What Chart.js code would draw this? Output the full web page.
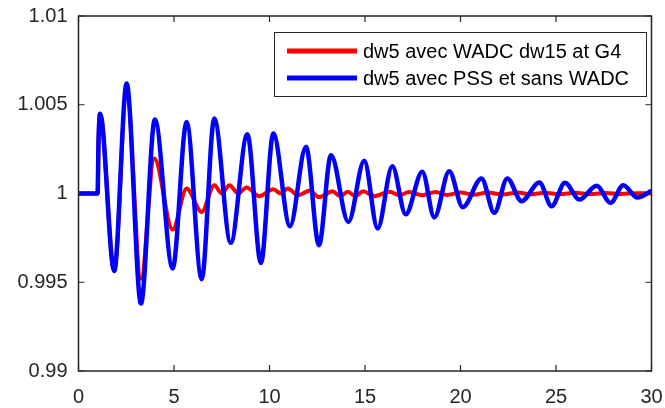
<!DOCTYPE html>
<html>
<head>
<meta charset="utf-8">
<script src="https://cdn.jsdelivr.net/npm/chart.js@4"></script>
<style>
  html, body { margin: 0; padding: 0; background: #fff; }
  #wrap { width: 665px; height: 408px; }
</style>
</head>
<body>
<div id="wrap"><canvas id="chart"></canvas></div>
<script>
// ---------------- DATA ----------------
const xTicks = [0, 5, 10, 15, 20, 25, 30];
const yTickLabels = ['0.99', '0.995', '1', '1.005', '1.01'];

// dw5 avec WADC dw15 at G4 (rouge)
const redT = [0, 1.0, 1.05, 1.13, 1.87, 2.52, 3.27, 3.97, 4.93, 5.66, 6.45, 7.11, 7.5, 7.9, 8.37, 8.8, 9.47, 10.2, 10.6, 10.95,
  11.5, 12.1, 12.6, 13.3, 13.7, 14.1, 14.5, 14.9, 15.5, 16.3, 16.8, 17.3, 18.0, 18.7, 19.3, 20.0, 20.7, 21.4, 22.2, 23.0,
  23.7, 24.4, 25.2, 26.0, 26.8, 27.6, 28.4, 29.2, 30];
const redV = [1, 1, 1.003, 1.0045, 0.99564, 1.0058, 0.9952, 1.00197, 0.99797, 1.00028, 0.99896, 1.00047, 1.0, 1.00047, 1.0, 1.00034, 0.99985, 1.00024, 1.0, 1.00028,
  0.9999, 1.00015, 0.9998, 1.00012, 0.99985, 1.0001, 0.99985, 1.00012, 0.99985, 1.0001, 0.9999, 1.00008, 0.9999, 1.00008, 0.99992, 1.00006, 0.99993, 1.00006, 0.99994, 1.00005,
  0.99995, 1.00004, 0.99996, 1.00004, 0.99997, 1.00003, 0.99997, 1.00002, 1.0];

// dw5 avec PSS et sans WADC (bleu)
const blueT = [0, 1.0, 1.05, 1.13, 1.87, 2.52, 3.27, 4.0, 4.93, 5.66, 6.45, 7.11, 7.97, 8.84, 9.55, 10.2, 11.07, 11.91, 12.59, 13.22,
  14.13, 14.96, 15.66, 16.43, 17.13, 18.0, 18.63, 19.41, 20.12, 21.1, 21.77, 22.45, 23.2, 24.13, 24.77, 25.47, 26.22, 27.13, 27.86, 28.52,
  29.26, 30];
const blueV = [1, 1, 1.003, 1.0045, 0.99564, 1.0062, 0.9938, 1.00417, 0.99577, 1.00403, 0.99517, 1.00422, 0.99722, 1.00334, 0.99609, 1.00338, 0.99816, 1.00263, 0.99709, 1.00216,
  0.9984, 1.00184, 0.99803, 1.00154, 0.99883, 1.00122, 0.99865, 1.00126, 0.99923, 1.00085, 0.99891, 1.00085, 0.99957, 1.00062, 0.99928, 1.0006, 0.99966, 1.00043, 0.99947, 1.00047,
  0.99977, 1.00015];

const seriesLabels = ['dw5 avec WADC dw15 at G4', 'dw5 avec PSS et sans WADC'];
const seriesColors = ['#ff0000', '#0000ff'];

const toPoints = (ts, vs) => ts.map((t, i) => ({ x: t, y: vs[i] }));

const AXIS_COLOR = '#262626';
const FONT = 'Arial, "Liberation Sans", Helvetica, sans-serif';

// ---------------- Plugin: cadre + ticks internes + légende ----------------
const matlabBox = {
  id: 'matlabBox',
  afterDraw(chart) {
    const { ctx, chartArea: a, scales } = chart;
    ctx.save();
    ctx.strokeStyle = AXIS_COLOR;
    ctx.lineWidth = 1.5;
    ctx.strokeRect(a.left, a.top, a.right - a.left, a.bottom - a.top);

    ctx.lineWidth = 1.2;
    const tl = 6;
    xTicks.forEach(v => {
      const px = scales.x.getPixelForValue(v);
      ctx.beginPath();
      ctx.moveTo(px, a.bottom); ctx.lineTo(px, a.bottom - tl);
      ctx.moveTo(px, a.top); ctx.lineTo(px, a.top + tl);
      ctx.stroke();
    });
    yTickLabels.forEach(s => {
      const py = scales.y.getPixelForValue(parseFloat(s));
      ctx.beginPath();
      ctx.moveTo(a.left, py); ctx.lineTo(a.left + tl, py);
      ctx.moveTo(a.right, py); ctx.lineTo(a.right - tl, py);
      ctx.stroke();
    });

    // légende
    const bx = 274, by = 32, bw = 372, bh = 64;
    ctx.fillStyle = '#fff';
    ctx.fillRect(bx, by, bw, bh);
    ctx.lineWidth = 1;
    ctx.strokeStyle = AXIS_COLOR;
    ctx.strokeRect(bx + 0.5, by + 0.5, bw, bh);
    const rows = [51, 78];
    ctx.font = '20px ' + FONT;
    ctx.textBaseline = 'middle';
    ctx.textAlign = 'left';
    seriesLabels.forEach((lab, i) => {
      ctx.strokeStyle = seriesColors[i];
      ctx.lineWidth = 5;
      ctx.beginPath();
      ctx.moveTo(287, rows[i]); ctx.lineTo(357, rows[i]);
      ctx.stroke();
      ctx.fillStyle = '#000';
      ctx.fillText(lab, 363, rows[i] + 1);
    });
    ctx.restore();
  }
};

// ---------------- Graphique ----------------
const ctx = document.getElementById('chart').getContext('2d');

new Chart(ctx, {
  type: 'line',
  data: {
    datasets: [
      {
        label: seriesLabels[0],
        data: toPoints(redT, redV),
        borderColor: seriesColors[0],
        borderWidth: 4,
        pointRadius: 0,
        cubicInterpolationMode: 'monotone',
        fill: false,
        order: 1
      },
      {
        label: seriesLabels[1],
        data: toPoints(blueT, blueV),
        borderColor: seriesColors[1],
        borderWidth: 4.5,
        pointRadius: 0,
        cubicInterpolationMode: 'monotone',
        fill: false,
        order: 0
      }
    ]
  },
  options: {
    responsive: true,
    maintainAspectRatio: false,
    animation: false,
    layout: { padding: { left: 0, right: 13.5, top: 16, bottom: 0 } },
    plugins: {
      legend: { display: false },
      tooltip: { enabled: false }
    },
    scales: {
      x: {
        type: 'linear',
        min: 0,
        max: 30,
        afterBuildTicks: s => { s.ticks = xTicks.map(v => ({ value: v })); },
        afterFit: s => { s.height = 37; s.paddingLeft = 0; s.paddingRight = 0; },
        grid: { display: false, drawTicks: false },
        border: { display: false },
        ticks: { color: AXIS_COLOR, font: { size: 20, family: FONT }, padding: 14, maxRotation: 0 }
      },
      y: {
        type: 'linear',
        min: 0.99,
        max: 1.01,
        afterBuildTicks: s => { s.ticks = yTickLabels.map(l => ({ value: parseFloat(l) })); },
        afterFit: s => { s.width = 78.5; s.paddingTop = 0; s.paddingBottom = 0; },
        grid: { display: false, drawTicks: false },
        border: { display: false },
        ticks: {
          color: AXIS_COLOR,
          font: { size: 20, family: FONT },
          padding: 11,
          callback: (v) => yTickLabels.find(l => Math.abs(parseFloat(l) - v) < 1e-9) || ''
        }
      }
    }
  },
  plugins: [matlabBox]
});
</script>
</body>
</html>
